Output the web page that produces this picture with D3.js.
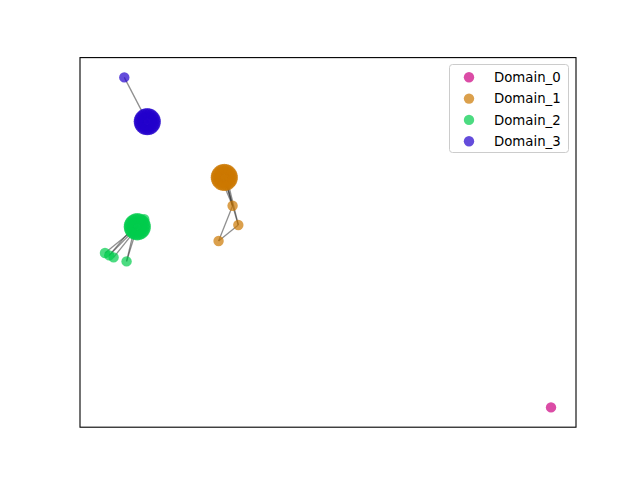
<!DOCTYPE html>
<html><head><meta charset="utf-8">
<script src="https://cdn.jsdelivr.net/npm/d3@7"></script>
<style>body{margin:0;background:#fff;} svg{display:block;}</style>
</head><body>
<svg id="c" width="640" height="480"></svg>
<script>
const domains = ["Domain_0", "Domain_1", "Domain_2", "Domain_3"];
const domainColors = ["#cc0080", "#cc7700", "#00cc4c", "#2200cc"];

// node data coordinates (arbitrary units) and domain index
const nodeX = [100.0,
  // Domain_3 cluster
  11.38, 11.13, 10.43, 9.48, 8.53, 7.83, 7.58, 7.83, 8.53, 9.48, 10.43, 11.13,
  10.48, 9.98, 8.98, 8.48, 8.98, 9.98, 9.48,
  4.33,
  // Domain_1 cluster
  28.65, 28.4, 27.7, 26.75, 25.8, 25.1, 24.85, 25.1, 25.8, 26.75, 27.7, 28.4,
  27.75, 27.25, 26.25, 25.75, 26.25, 27.25, 26.75,
  28.61, 29.89, 25.47,
  // Domain_2 cluster
  9.14, 8.89, 8.19, 7.24, 6.29, 5.59, 5.34, 5.59, 6.29, 7.24, 8.19, 8.89,
  8.24, 7.74, 6.74, 6.24, 6.74, 7.74, 7.24, 8.8,
  0.0, 0.96, 1.93, 4.84,
  // more cluster members
  11.32, 10.82, 9.97, 8.99, 8.14, 7.64, 7.64, 8.14, 8.99, 9.97, 10.82, 11.32,
  28.59, 28.09, 27.24, 26.26, 25.41, 24.91, 24.91, 25.41, 26.26, 27.24, 28.09, 28.59,
  9.08, 8.58, 7.73, 6.75, 5.9, 5.4, 5.4, 5.9, 6.75, 7.73, 8.58, 9.08];
const nodeY = [0.0,
  86.6, 87.89, 88.83, 89.18, 88.83, 87.89, 86.6, 85.31, 84.37, 84.02, 84.37, 85.31,
  86.6, 87.78, 87.78, 86.6, 85.42, 85.42, 86.6,
  100.0,
  69.7, 70.99, 71.93, 72.28, 71.93, 70.99, 69.7, 68.41, 67.47, 67.12, 67.47, 68.41,
  69.7, 70.88, 70.88, 69.7, 68.52, 68.52, 69.7,
  61.12, 55.27, 50.42,
  54.76, 56.05, 56.99, 57.34, 56.99, 56.05, 54.76, 53.47, 52.53, 52.18, 52.53, 53.47,
  54.76, 55.94, 55.94, 54.76, 53.58, 53.58, 54.76, 57.0,
  46.79, 46.06, 45.45, 44.24,
  87.27, 88.42, 89.09, 89.09, 88.42, 87.27, 85.93, 84.78, 84.11, 84.11, 84.78, 85.93,
  70.37, 71.52, 72.19, 72.19, 71.52, 70.37, 69.03, 67.88, 67.21, 67.21, 67.88, 69.03,
  55.43, 56.58, 57.25, 57.25, 56.58, 55.43, 54.09, 52.94, 52.27, 52.27, 52.94, 54.09];
const nodeDomain = [0,
  3,3,3,3,3,3,3,3,3,3,3,3, 3,3,3,3,3,3,3,
  3,
  1,1,1,1,1,1,1,1,1,1,1,1, 1,1,1,1,1,1,1,
  1,1,1,
  2,2,2,2,2,2,2,2,2,2,2,2, 2,2,2,2,2,2,2,2,
  2,2,2,2,
  3,3,3,3,3,3,3,3,3,3,3,3,
  1,1,1,1,1,1,1,1,1,1,1,1,
  2,2,2,2,2,2,2,2,2,2,2,2];
const edgeSource = [20, 40, 40, 40, 41, 41, 42, 42, 63, 64, 65, 64, 66, 66];
const edgeTarget = [19, 39, 30, 38, 39, 31, 40, 41, 61, 50, 59, 61, 61, 51];

const svg = d3.select("#c");
const L = 80, R = 576, T = 57.6, B = 427.2;
const xMin = d3.min(nodeX), xMax = d3.max(nodeX), yMin = d3.min(nodeY), yMax = d3.max(nodeY);
const xp = (xMax - xMin) * 0.056, yp = (yMax - yMin) * 0.06;
const x = d3.scaleLinear().domain([xMin - xp, xMax + xp]).range([L, R]);
const y = d3.scaleLinear().domain([yMin - yp, yMax + yp]).range([B, T]);

const g = svg.append("g");
g.selectAll("line.e").data(edgeSource.map((s, i) => [s, edgeTarget[i]])).enter()
  .append("line").attr("class", "e")
  .attr("x1", d => x(nodeX[d[0]])).attr("y1", d => y(nodeY[d[0]]))
  .attr("x2", d => x(nodeX[d[1]])).attr("y2", d => y(nodeY[d[1]]))
  .attr("stroke", "#333").attr("stroke-opacity", 0.55).attr("stroke-width", 1.3);

domains.forEach((dn, di) => {
  const idx = nodeDomain.map((d, i) => d === di ? i : -1).filter(i => i >= 0);
  g.selectAll("circle.d" + di).data(idx).enter().append("circle")
    .attr("class", "d" + di)
    .attr("cx", i => x(nodeX[i])).attr("cy", i => y(nodeY[i]))
    .attr("r", 5.2).attr("fill", domainColors[di]).attr("fill-opacity", 0.7);
});

svg.append("rect").attr("x", L).attr("y", T).attr("width", R - L).attr("height", B - T)
  .attr("fill", "none").attr("stroke", "#000").attr("stroke-width", 1.1);

// legend
const lg = svg.append("g");
lg.append("rect").attr("x", 449.5).attr("y", 64.5).attr("width", 119).attr("height", 88)
  .attr("rx", 3).attr("fill", "#fff").attr("fill-opacity", 0.8)
  .attr("stroke", "#ccc").attr("stroke-width", 1);
domains.forEach((dn, di) => {
  const yy = 77.3 + di * 21.3;
  lg.append("circle").attr("cx", 469).attr("cy", yy).attr("r", 5.2)
    .attr("fill", domainColors[di]).attr("fill-opacity", 0.7);
  lg.append("text").attr("x", 494).attr("y", yy + 4.8).text(dn)
    .attr("font-family", "DejaVu Sans").attr("font-size", 13.3).attr("fill", "#000");
});
</script>
</body></html>
